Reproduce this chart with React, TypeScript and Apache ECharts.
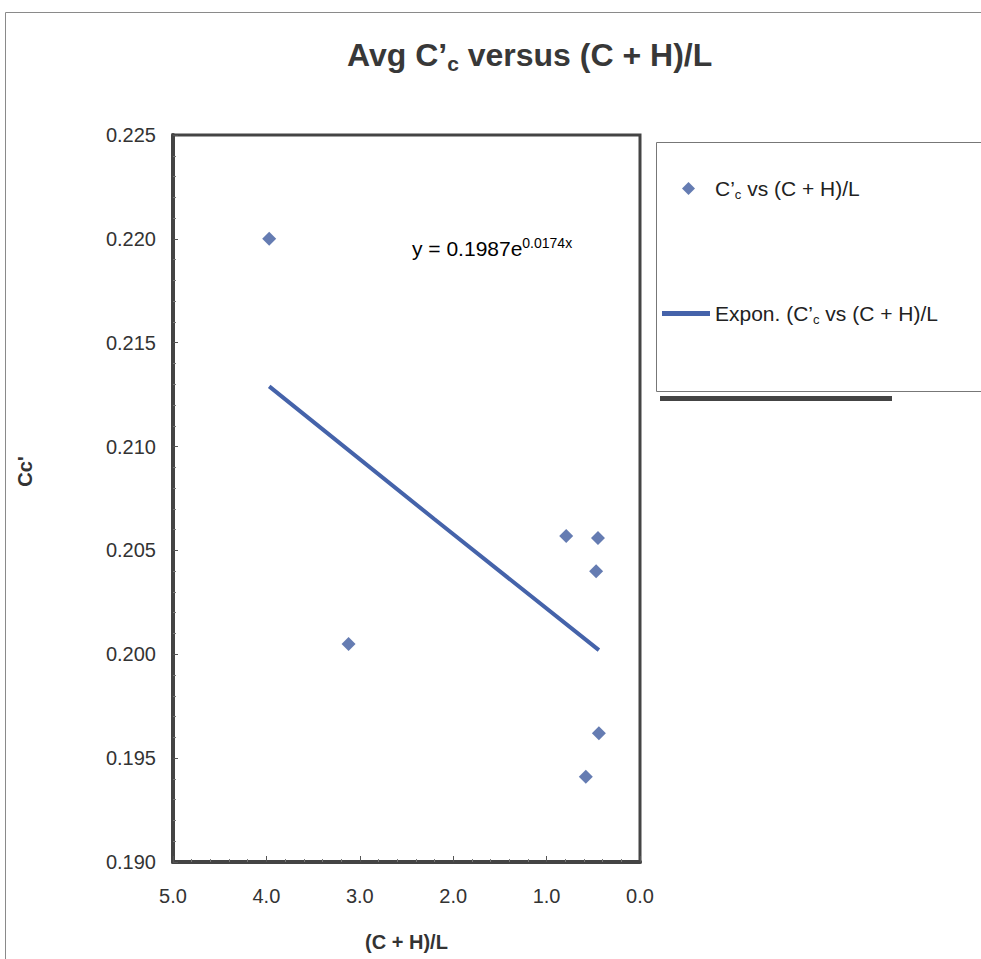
import React, { useEffect, useRef } from "react";
import * as echarts from "echarts";

const xTickValues = [0, 1, 2, 3, 4, 5];
const yTickValues = [0.19, 0.195, 0.2, 0.205, 0.21, 0.215, 0.22, 0.225];
const scatterX = [3.97, 3.12, 0.79, 0.45, 0.47, 0.44, 0.58];
const scatterY = [0.22, 0.2005, 0.2057, 0.2056, 0.204, 0.1962, 0.1941];
const trendX = [3.97, 2.2, 0.44];
const trendY = [0.2129, 0.2065, 0.2002];
const scatterName = "C’c vs (C + H)/L";
const trendName = "Expon. (C’c vs (C + H)/L";
const equationMain = "y = 0.1987e";
const equationSup = "0.0174x";

const FONT = "Liberation Sans, Arial, sans-serif";
const BLUE = "#3f5b9f";
const DARK = "#333333";

export default function App() {
  const ref = useRef<HTMLDivElement>(null);
  useEffect(() => {
    if (!ref.current) return;
    const chart = echarts.init(ref.current, null, { renderer: "svg" });
    const scatterData = scatterX.map((x, i) => [x, scatterY[i]]);
    const trendData = trendX.map((x, i) => [x, trendY[i]]);
    const legendRich = {
      g: { fontSize: 21, fontFamily: FONT, color: "#222", lineHeight: 24, padding: [0, 0, 0, 15] },
      n: { fontSize: 21, fontFamily: FONT, color: "#222", lineHeight: 24 },
      s: { fontSize: 13, fontFamily: FONT, color: "#222", lineHeight: 13, verticalAlign: "bottom" },
    };
    chart.setOption({
      animation: false,
      backgroundColor: "#ffffff",
      title: {
        text: "{n|Avg C’}{s|c}{n| versus (C + H)/L}",
        left: 347,
        top: 36,
        padding: 0,
        textStyle: {
          rich: {
            n: { fontSize: 32, fontWeight: "bold", fontFamily: FONT, color: "#383838", lineHeight: 38 },
            s: { fontSize: 21, fontWeight: "bold", fontFamily: FONT, color: "#383838", lineHeight: 21, verticalAlign: "bottom" },
          },
        },
      },
      legend: [
        {
          data: [scatterName],
          left: 682,
          top: 178,
          padding: 0,
          itemWidth: 13,
          itemHeight: 13,
          icon: "diamond",
          formatter: () => "{g|C’}{s|c}{n| vs (C + H)/L}",
          textStyle: { rich: legendRich },
        },
        {
          data: [trendName],
          left: 662,
          top: 303,
          padding: 0,
          itemWidth: 48,
          itemHeight: 5,
          icon: "rect",
          formatter: () => "{n|Expon. (C’}{s|c}{n| vs (C + H)/L}",
          textStyle: { rich: legendRich },
        },
      ],
      grid: {
        left: 173,
        right: 341,
        top: 135,
        bottom: 97,
        show: true,
        borderColor: "#444",
        borderWidth: 3,
        backgroundColor: "#ffffff",
      },
      xAxis: {
        type: "value",
        inverse: true,
        min: xTickValues[0],
        max: xTickValues[xTickValues.length - 1],
        interval: 1,
        name: "(C + H)/L",
        nameLocation: "middle",
        nameGap: 70,
        nameTextStyle: { fontSize: 20, fontWeight: "bold", fontFamily: FONT, color: DARK },
        axisLine: { show: true, onZero: false, lineStyle: { color: "#444", width: 4 } },
        axisTick: { show: true, inside: true, length: 6, lineStyle: { color: "#555", width: 1 } },
        minorTick: { show: true, splitNumber: 5, length: 3, lineStyle: { color: "#777", width: 1 } },
        splitLine: { show: false },
        axisLabel: {
          fontSize: 20,
          fontFamily: FONT,
          color: DARK,
          margin: 24,
          formatter: (v: number) => v.toFixed(1),
        },
      },
      yAxis: {
        type: "value",
        min: yTickValues[0],
        max: yTickValues[yTickValues.length - 1],
        interval: 0.005,
        name: "Cc'",
        nameLocation: "middle",
        nameGap: 138,
        nameTextStyle: {
          fontSize: 20,
          fontWeight: "bold",
          fontFamily: FONT,
          color: DARK,
          padding: [0, 0, 0, 54],
        },
        axisLine: { show: true, onZero: false, lineStyle: { color: "#444", width: 4 } },
        axisTick: { show: true, inside: true, length: 5, lineStyle: { color: "#555", width: 1 } },
        minorTick: { show: true, splitNumber: 5, length: 3, lineStyle: { color: "#777", width: 1 } },
        splitLine: { show: false },
        axisLabel: {
          fontSize: 20,
          fontFamily: FONT,
          color: DARK,
          margin: 17,
          formatter: (v: number) => v.toFixed(3),
        },
      },
      series: [
        {
          name: scatterName,
          type: "scatter",
          symbol: "diamond",
          symbolSize: 14,
          itemStyle: { color: BLUE },
          data: scatterData,
          z: 3,
        },
        {
          name: trendName,
          type: "line",
          smooth: true,
          showSymbol: false,
          symbol: "none",
          itemStyle: { color: "#4563aa" },
          lineStyle: { color: "#4563aa", width: 4 },
          data: trendData,
          z: 2,
        },
      ],
      graphic: [
        {
          type: "rect",
          silent: true,
          z: -10,
          shape: { x: 5.5, y: 12.5, width: 1000, height: 1000 },
          style: { fill: "none", stroke: "#8a8a8a", lineWidth: 1 },
        },
        {
          type: "rect",
          silent: true,
          z: -5,
          shape: { x: 656.5, y: 142.5, width: 400, height: 249 },
          style: { fill: "#ffffff", stroke: "#777", lineWidth: 1 },
        },
        {
          type: "rect",
          silent: true,
          z: -5,
          shape: { x: 660, y: 396, width: 232, height: 5 },
          style: { fill: "#444444" },
        },
        {
          type: "text",
          left: 412,
          top: 236,
          z: 10,
          style: {
            text: "{n|" + equationMain + "}{p|" + equationSup + "}",
            rich: {
              n: { fontSize: 21, fontFamily: FONT, color: "#222", lineHeight: 25 },
              p: { fontSize: 14, fontFamily: FONT, color: "#222", lineHeight: 14, verticalAlign: "top" },
            },
          },
        },
      ],
    });
    return () => chart.dispose();
  }, []);
  return (
    <div
      ref={ref}
      style={{ position: "fixed", left: 0, top: 0, width: 981, height: 959, background: "#fff" }}
    />
  );
}
